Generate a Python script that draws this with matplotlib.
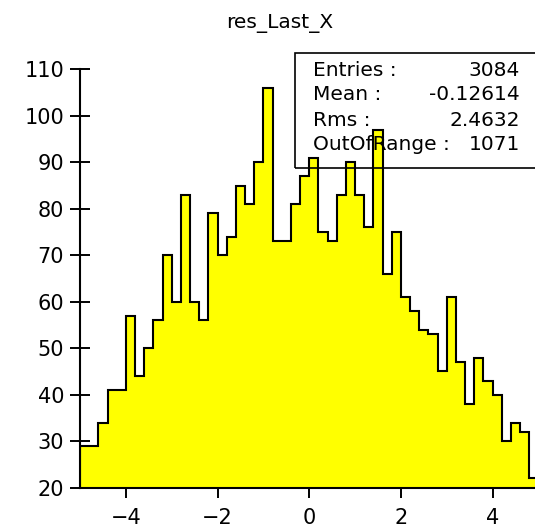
import numpy as np
import matplotlib
matplotlib.use("Agg")
import matplotlib.pyplot as plt
from matplotlib.patches import Rectangle

# histogram res_Last_X, 50 bins on [-5, 5]
bin_edges = np.linspace(-5, 5, 51)
counts = [29, 29, 34, 41, 41, 57, 44, 50, 56, 70,
          60, 83, 60, 56, 79, 70, 74, 85, 81, 90,
          106, 73, 73, 81, 87, 91, 75, 73, 83, 90,
          83, 76, 97, 66, 75, 61, 58, 54, 53, 45,
          61, 47, 38, 48, 43, 40, 30, 34, 32, 22]

stat_names = ["Entries :", "Mean :", "Rms :", "OutOfRange :"]
stat_values = ["3084", "-0.12614", "2.4632", "1071"]

title = "res_Last_X"
xticks = [-4, -2, 0, 2, 4]
yticks = [20, 30, 40, 50, 60, 70, 80, 90, 100, 110]

W, H = 535, 527
fig = plt.figure(figsize=(W / 100, H / 100), dpi=100)
# axes run off the right edge, like the original
ax = fig.add_axes([80 / W, 39.3 / H, 458.5 / W, 418.4 / H])

ax.stairs(counts, bin_edges, baseline=20, fill=True, color="#ffff00", zorder=1)
ax.stairs(counts, bin_edges, baseline=20, fill=False, color="black", linewidth=1.5, zorder=2)

ax.set_xlim(-5, 5)
ax.set_ylim(20, 110)
ax.set_xticks(xticks)
ax.set_yticks(yticks)
ax.set_axisbelow(True)
for s in ["top", "right"]:
    ax.spines[s].set_visible(False)
for s in ["left", "bottom"]:
    ax.spines[s].set_linewidth(1.5)
    ax.spines[s].set_zorder(3)
ax.tick_params(direction="inout", length=15, width=1.4, labelsize=15)
ax.tick_params(axis="x", pad=7)
ax.tick_params(axis="y", pad=4)
ax.patch.set_alpha(0)

fig.text(280 / W, 1 - 28 / H, title, ha="center", va="baseline", fontsize=14.5)

# stats box
box = Rectangle((295 / W, 1 - 168 / H), 250 / W, 115 / H, transform=fig.transFigure,
                fill=False, edgecolor="black", linewidth=1.2, zorder=4)
fig.patches.append(box)
row_y = [70, 95, 121, 145]
for name, val, y in zip(stat_names, stat_values, row_y):
    fig.text(313 / W, 1 - y / H, name, ha="left", va="center", fontsize=14.5, zorder=5)
    fig.text(520 / W, 1 - y / H, val, ha="right", va="center", fontsize=14.5, zorder=5)

fig.savefig("out.png", dpi=100)
